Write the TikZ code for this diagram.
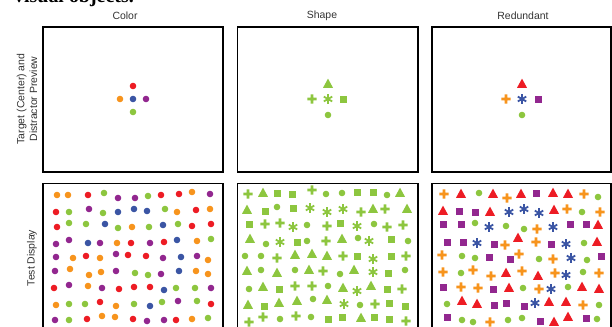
\documentclass[tikz,border=0pt]{standalone}
\usepackage{fontspec}
\setmainfont{Liberation Sans}
\newfontfamily\headfont{Liberation Serif}

\definecolor{cr}{HTML}{ED1C24}
\definecolor{co}{HTML}{F7941D}
\definecolor{cg}{HTML}{8DC63F}
\definecolor{cb}{HTML}{3B55A4}
\definecolor{cp}{HTML}{92278F}

\begin{document}
\begin{tikzpicture}[x=1bp,y=-1bp,
  frame/.style={draw=black,line width=1.7bp},
  lbl/.style={text=black!80,font=\fontsize{10.5}{13}\selectfont,inner sep=0pt},
  pics/dot/.style={code={\fill (0,0) circle (3.3);}},
  pics/tri/.style={code={\fill (0,-5.4) -- (5,3.8) -- (-5,3.8) -- cycle;}},
  pics/sq/.style={code={\fill (-3.5,-3.5) rectangle (3.5,3.5);}},
  pics/plus/.style={code={\fill (-4.6,-1.3) rectangle (4.6,1.3) (-1.3,-4.6) rectangle (1.3,4.6);}},
  pics/ast/.style={code={\draw[line width=1.8bp] (0,-4.8) -- (0,4.8) (-4.2,-2.4) -- (4.2,2.4) (-4.2,2.4) -- (4.2,-2.4);}}]
  \useasboundingbox (0,0) rectangle (612,326);
  \clip (0,0) rectangle (612,326);

  % heading, cut at the top
  \node[anchor=base west,inner sep=0pt,font=\headfont\bfseries\fontsize{20}{24}\selectfont] (head) at (14,2.5) {visual objects.};

  % column and row titles
  \node[lbl] (tcolor) at (125,16) {Color};
  \node[lbl] (tshape) at (322,16) {Shape};
  \node[lbl] (tredun) at (523,16) {Redundant};
  \node[lbl,rotate=90,align=center] (tprev) at (27,99) {Target (Center) and\\Distractor Preview};
  \node[lbl,rotate=90] (ttest) at (32,258) {Test Display};

  % frames
  \draw[frame] (43,27) rectangle (223,172);
  \draw[frame] (237.5,27) rectangle (418,172);
  \draw[frame] (432,27) rectangle (611.2,172);
  \draw[frame] (43,340) |- (223,183.5) -- (223,340);
  \draw[frame] (237.5,340) |- (418,183.5) -- (418,340);
  \draw[frame] (432,340) |- (611.2,183.5) -- (611.2,340);

  % previews
  \pic[cr] at (133,86) {dot};
  \pic[co] at (120,99) {dot};
  \pic[cb] at (133,99) {dot};
  \pic[cp] at (146,99) {dot};
  \pic[cg] at (133,112) {dot};

  \pic[cg] at (328,84) {tri};
  \pic[cg] at (312,99) {plus};
  \pic[cg] at (328,99) {ast};
  \pic[cg] at (343,99) {sq};
  \pic[cg] at (328,115) {dot};

  \pic[cr] at (522,84) {tri};
  \pic[co] at (506,99) {plus};
  \pic[cb] at (522,99) {ast};
  \pic[cp] at (538,99) {sq};
  \pic[cg] at (522,115) {dot};

  % test display: color
  \foreach \x/\y/\c in {
    57/195/co, 68/195/co, 88/195/cr, 104/193/cg, 118/198/cp, 135/198/cp, 148/196/cg, 161/195/cr, 179/194/cr, 192/192/co, 210/194/cp,
    56/212/cr, 69/212/cg, 89/209/cp, 103/213/cg, 118/212/cb, 134/209/cb, 147/211/cb, 165/209/cg, 177/212/co, 196/210/cr, 210/209/co,
    57/227/cr, 69/223/cg, 86/224/cg, 105/224/cb, 118/228/cg, 132/227/co, 149/227/cg, 163/225/cb, 178/224/cg, 192/226/cr, 211/224/cr,
    56/244/cp, 69/240/cp, 88/243/cb, 100/243/cp, 117/243/co, 131/243/cr, 150/243/cp, 164/242/cr, 177/240/cb, 197/241/co, 211/239/cg,
    56/257/cp, 73/258/co, 86/256/cr, 100/258/co, 116/254/cp, 128/255/cr, 146/256/cr, 163/258/cp, 181/257/cb, 197/256/cp, 208/260/co,
    55/271/cp, 70/269/co, 89/275/co, 101/272/co, 116/271/cp, 135/273/cg, 148/275/cg, 161/274/cp, 179/271/cb, 196/271/co, 208/274/co,
    54/288/cr, 69/285/cp, 88/286/co, 102/288/cp, 119/289/cr, 134/287/cr, 150/287/cr, 164/290/cb, 176/288/cg, 195/288/cg, 211/288/cp,
    56/305/co, 69/304/cg, 85/304/cg, 100/302/cr, 116/306/co, 134/304/cg, 150/306/cb, 162/302/cg, 178/301/cp, 197/301/cg, 211/304/cr,
    55/320/cp, 69/320/cg, 87/319/cr, 102/316/co, 115/317/co, 133/319/cr, 147/321/cp, 164/320/cp, 176/320/cr, 192/319/co, 208/318/cg}
    \pic[\c] at (\x,\y) {dot};

  % test display: shape
  \foreach \x/\y/\s in {
    248/194/plus, 263/193/tri, 277/193/sq, 292/194/sq, 312/190/plus, 326/194/dot, 342/193/dot, 357/192/sq, 373/192/sq, 387/195/dot, 400/193/tri,
    247/210/tri, 265/211/sq, 277/207/dot, 293/208/sq, 310/208/ast, 327/212/ast, 343/209/ast, 361/212/plus, 373/209/tri, 385/209/plus, 407/209/tri,
    249/224/sq, 265/224/plus, 280/223/plus, 293/227/ast, 307/225/dot, 327/226/plus, 340/223/sq, 357/226/ast, 374/224/dot, 387/227/plus, 403/225/plus,
    250/239/tri, 266/244/dot, 280/242/ast, 297/242/sq, 307/241/dot, 326/241/plus, 342/239/tri, 358/238/dot, 369/241/ast, 391/239/sq, 408/241/dot,
    245/256/dot, 261/256/dot, 277/258/plus, 295/255/tri, 312/254/tri, 327/256/tri, 343/256/plus, 357/256/sq, 373/259/ast, 391/256/sq, 406/256/plus,
    247/271/tri, 261/270/dot, 277/273/tri, 295/270/dot, 309/270/tri, 323/271/plus, 340/274/dot, 354/270/tri, 373/272/ast, 388/273/sq, 405/270/dot,
    249/289/dot, 263/287/tri, 279/289/sq, 295/286/plus, 312/286/plus, 328/286/dot, 343/288/tri, 357/291/ast, 371/286/tri, 387/289/sq, 402/289/plus,
    248/305/tri, 264/306/sq, 279/303/tri, 297/301/tri, 313/299/dot, 327/300/tri, 344/304/ast, 360/305/dot, 375/304/plus, 389/303/sq, 405/306/sq,
    249/322/plus, 263/317/plus, 280/319/dot, 296/316/plus, 311/317/dot, 328/319/sq, 342/317/sq, 361/318/tri, 374/317/sq, 389/319/sq, 406/321/plus}
    \pic[cg] at (\x,\y) {\s};

  % test display: redundant
  \foreach \x/\y/\s/\c in {
    444/194/plus/co, 461/194/tri/cr, 479/193/dot/cg, 493/194/tri/cr, 507/198/plus/co, 521/194/tri/cr, 536/193/sq/cp, 553/193/tri/cr, 568/194/tri/cr, 584/194/plus/co, 598/197/dot/cg,
    443/211/tri/cr, 459/211/sq/cp, 475/212/sq/cp, 490/212/tri/cr, 509/212/ast/cb, 524/209/ast/cb, 539/213/ast/cb, 554/210/tri/cr, 567/209/plus/co, 582/212/dot/cg, 600/212/plus/co,
    443/224/sq/cp, 461/224/sq/cp, 475/223/dot/cg, 489/227/ast/cb, 506/226/dot/cg, 524/229/dot/cg, 537/229/plus/co, 553/227/ast/cb, 570/224/sq/cp, 586/224/sq/cp, 598/225/tri/cr,
    447/242/sq/cp, 463/242/sq/cp, 477/243/ast/cb, 494/244/sq/cp, 505/245/plus/co, 518/238/tri/cr, 536/242/plus/co, 551/244/sq/cp, 566/244/ast/cb, 584/243/dot/cg, 597/242/tri/cr,
    442/255/plus/co, 462/256/dot/cg, 475/258/dot/cg, 489/257/sq/cp, 510/259/sq/cp, 519/254/plus/co, 539/259/dot/cg, 553/259/plus/co, 571/258/ast/cb, 587/260/dot/cg, 601/256/sq/cp,
    443/272/plus/co, 461/273/dot/cg, 473/270/plus/co, 491/276/plus/co, 506/273/tri/cr, 522/271/plus/co, 538/276/tri/cr, 555/273/plus/co, 566/275/ast/cb, 583/272/dot/cg, 599/273/plus/co,
    443/287/sq/cp, 461/287/plus/co, 478/288/plus/co, 493/289/sq/cp, 509/288/tri/cr, 523/288/dot/cg, 539/289/plus/co, 551/289/ast/cb, 568/287/dot/cg, 582/287/tri/cr, 599/289/tri/cr,
    447/304/dot/cg, 462/301/tri/cr, 477/304/tri/cr, 494/305/sq/cp, 506/303/sq/cp, 524/306/sq/cp, 535/303/ast/cb, 549/302/tri/cr, 566/302/tri/cr, 583/305/plus/co, 599/305/dot/cg,
    447/317/sq/cp, 462/320/dot/cg, 473/322/dot/cg, 490/322/plus/co, 508/320/dot/cg, 522/318/dot/cg, 540/321/sq/cp, 554/322/tri/cr, 568/317/tri/cr, 586/318/sq/cp, 597/319/dot/cg}
    \pic[\c] at (\x,\y) {\s};
\end{tikzpicture}
\end{document}
